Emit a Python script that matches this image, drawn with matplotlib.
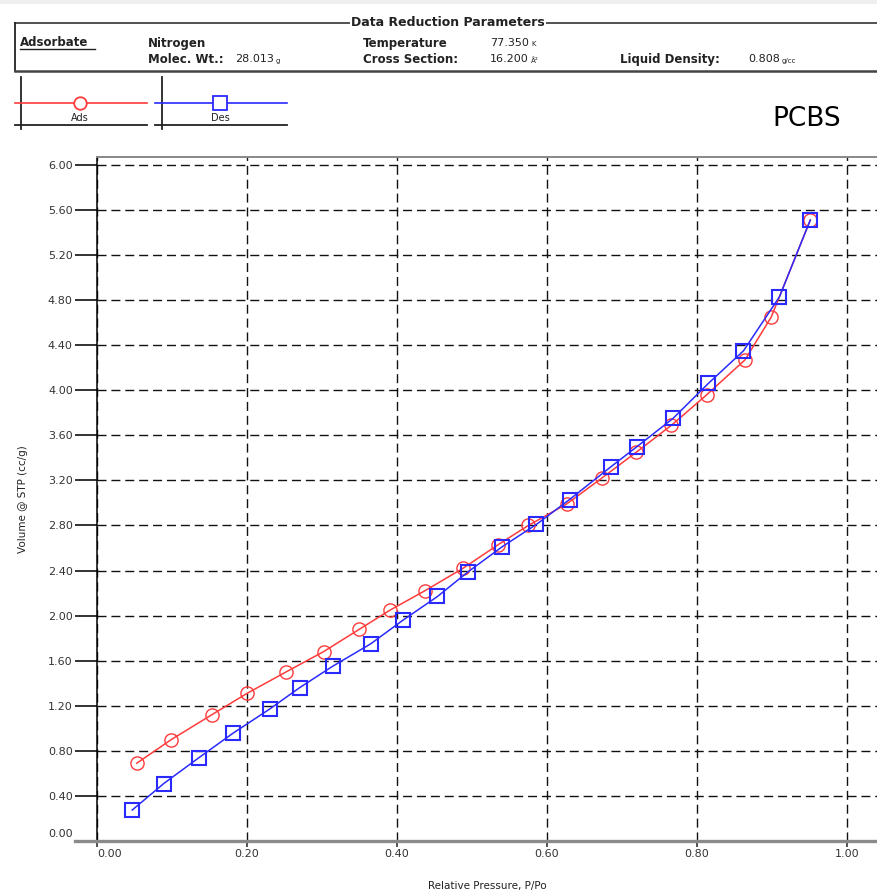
import matplotlib.pyplot as plt
from matplotlib.transforms import ScaledTranslation

# Nitrogen isotherm, adsorption and desorption branches
ads_p = [0.053, 0.099, 0.153, 0.200, 0.252, 0.302, 0.350, 0.391, 0.437, 0.488,
         0.535, 0.575, 0.626, 0.673, 0.719, 0.766, 0.813, 0.864, 0.899, 0.951]
ads_v = [0.69, 0.90, 1.12, 1.31, 1.50, 1.68, 1.88, 2.05, 2.22, 2.42,
         2.63, 2.80, 2.99, 3.22, 3.45, 3.69, 3.96, 4.27, 4.65, 5.51]
des_p = [0.047, 0.089, 0.136, 0.181, 0.230, 0.270, 0.314, 0.365, 0.408, 0.454,
         0.495, 0.540, 0.586, 0.630, 0.685, 0.720, 0.768, 0.815, 0.862, 0.910, 0.951]
des_v = [0.275, 0.51, 0.74, 0.955, 1.17, 1.36, 1.55, 1.75, 1.96, 2.17,
         2.39, 2.61, 2.81, 3.03, 3.32, 3.50, 3.75, 4.06, 4.35, 4.83, 5.51]

x_ticks = [0.0, 0.2, 0.4, 0.6, 0.8, 1.0]
y_ticks = [0.0, 0.4, 0.8, 1.2, 1.6, 2.0, 2.4, 2.8, 3.2, 3.6, 4.0, 4.4, 4.8, 5.2, 5.6, 6.0]

RED = '#ff3b3b'
BLUE = '#2a2aff'
INK = '#222222'

fig = plt.figure(figsize=(8.77, 8.96), dpi=100)

# page layer in pixel units for the header block and legend
bg = fig.add_axes([0, 0, 1, 1])
bg.set_xlim(0, 877)
bg.set_ylim(896, 0)
bg.axis('off')
bg.axhspan(0, 4, color='#eeeeee', lw=0)

# header box
bg.plot([15, 877], [23, 23], color=INK, lw=1.1)
bg.plot([15, 15], [23, 71], color=INK, lw=1.3)
bg.plot([15, 877], [71, 71], color='#444444', lw=1.8)
bg.text(448, 22, 'Data Reduction Parameters', ha='center', va='center',
        fontsize=9, fontweight='bold', color=INK,
        bbox=dict(facecolor='white', edgecolor='none', pad=1))

bold = dict(fontsize=8.5, fontweight='bold', color=INK, va='center', ha='left')
norm = dict(fontsize=8, color=INK, va='center', ha='left')
small = dict(fontsize=5, color=INK, va='baseline', ha='left',
             xytext=(1.5, 0), textcoords='offset points')

bg.text(20, 43, 'Adsorbate', **bold)
bg.plot([20, 95], [49, 49], color=INK, lw=1)
bg.text(148, 43, 'Nitrogen', **bold)
bg.text(148, 59.5, 'Molec. Wt.:', **bold)
t = bg.text(235, 59.5, '28.013', **norm)
bg.annotate('g', xy=(1, 0.15), xycoords=t, **small)

bg.text(363, 43, 'Temperature', **bold)
t = bg.text(490, 43, '77.350', **norm)
bg.annotate('K', xy=(1, 0.15), xycoords=t, **small)
bg.text(363, 59.5, 'Cross Section:', **bold)
t = bg.text(490, 59.5, '16.200', **norm)
bg.annotate('Å²', xy=(1, 0.15), xycoords=t, **small)

bg.text(620, 59.5, 'Liquid Density:', **bold)
t = bg.text(748, 59.5, '0.808', **norm)
bg.annotate('g/cc', xy=(1, 0.15), xycoords=t, **small)

# series key
for x0, x1, xv, xm, col, mk, ms, name in [(15, 147, 21, 80, RED, 'o', 9, 'Ads'),
                                          (155, 287, 162, 220, BLUE, 's', 9.5, 'Des')]:
    bg.plot([xv, xv], [77, 129], color=INK, lw=1.3)
    bg.plot([x0, x1], [125, 125], color=INK, lw=1.3)
    bg.plot([x0, x1], [103, 103], color=col, lw=1.2)
    bg.plot(xm, 103, mk, ms=ms, mfc='white', mec=col, mew=1.3)
    bg.text(xm, 118, name, ha='center', va='center', fontsize=7, color=INK)

bg.text(807, 119, 'PCBS', ha='center', va='center', fontsize=19, color='black')

# isotherm plot
ax = fig.add_axes([97 / 877, 1 - 841 / 896, 780 / 877, 684 / 896])
ax.plot(ads_p, ads_v, color=RED, lw=1.1, marker='o', ms=9.5,
        mfc='none', mec=RED, mew=1.0, zorder=3)
ax.plot(des_p, des_v, color=BLUE, lw=1.1, marker='s', ms=10.5,
        mfc='none', mec=BLUE, mew=1.5, zorder=4)

ax.set_xlim(0, 1.04)
ax.set_ylim(0, 6.07)
ax.set_xticks(x_ticks)
ax.set_yticks(y_ticks)
ax.set_xticklabels([f'{v:.2f}' for v in x_ticks])
ax.set_yticklabels([f'{v:.2f}' for v in y_ticks])
ax.grid(True, color='#111111', lw=1.0, linestyle=(0, (6.5, 3.5)))

ax.tick_params(axis='y', direction='out', length=16, width=1.3, color=INK,
               pad=1.5, labelsize=8, labelcolor='#333333')
ax.tick_params(axis='x', direction='out', length=4, width=1.1, color=INK,
               pad=1.5, labelsize=8, labelcolor='#333333')

for side in ('right', 'bottom'):
    ax.spines[side].set_visible(False)
ax.spines['left'].set_color('black')
ax.spines['left'].set_linewidth(1.1)
ax.spines['top'].set_color('#888888')
ax.spines['top'].set_linewidth(1.4)
ax.plot([-0.0285, 1.0], [0, 0], transform=ax.transAxes, clip_on=False,
        color='#8a8a8a', lw=2.4, zorder=5)

ax.set_xlabel('Relative Pressure, P/Po', fontsize=7.5, color=INK, labelpad=16)
ax.set_ylabel('Volume @ STP (cc/g)', fontsize=7.5, color=INK, labelpad=14)

# nudge the two zero labels away from the corner
ax.get_xticklabels()[0].set_transform(
    ax.get_xticklabels()[0].get_transform() + ScaledTranslation(0.13, 0, fig.dpi_scale_trans))
ax.get_yticklabels()[0].set_transform(
    ax.get_yticklabels()[0].get_transform() + ScaledTranslation(0, 0.08, fig.dpi_scale_trans))

fig.savefig('out.png', dpi=100)
